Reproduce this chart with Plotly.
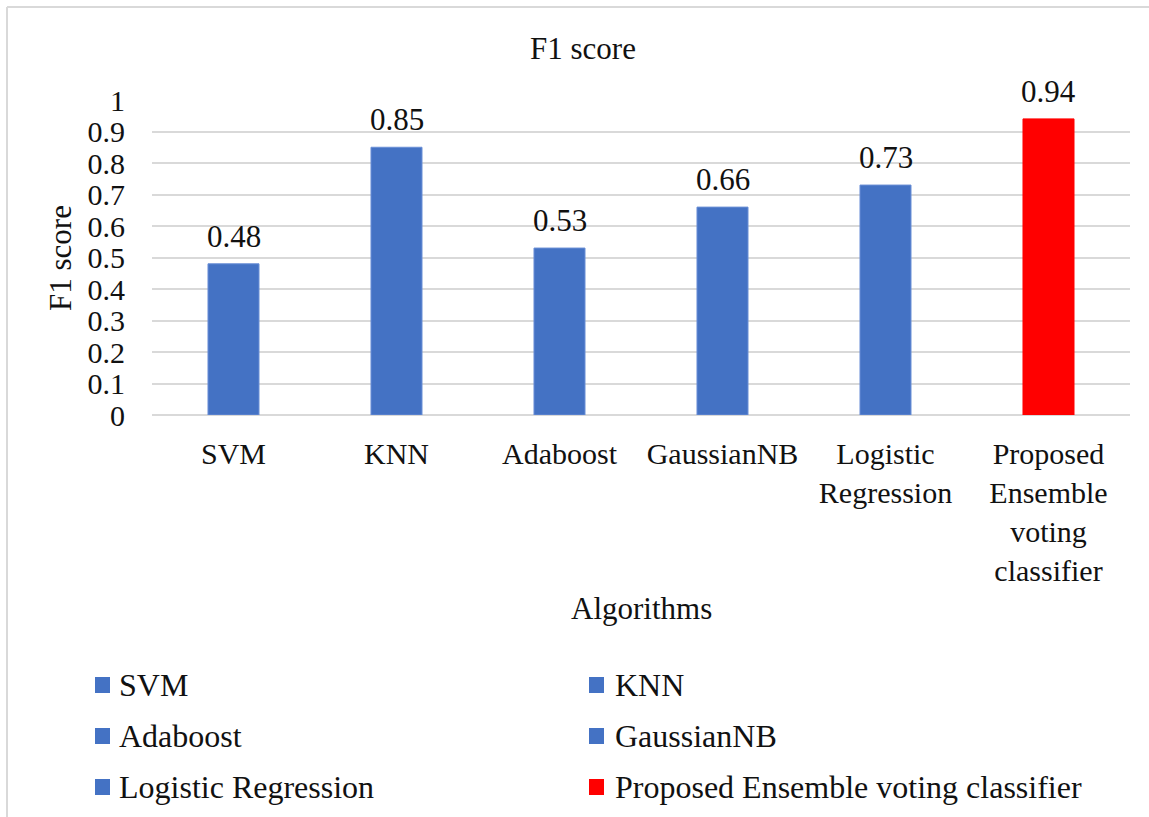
import plotly.graph_objects as go

# F1 score per algorithm
algorithms = ["SVM", "KNN", "Adaboost", "GaussianNB", "Logistic Regression",
              "Proposed Ensemble voting classifier"]
tick_labels = ["SVM", "KNN", "Adaboost", "GaussianNB", "Logistic<br>Regression",
               "Proposed<br>Ensemble<br>voting<br>classifier"]
f1_scores = [0.48, 0.85, 0.53, 0.66, 0.73, 0.94]
bar_colors = ["#4472C4", "#4472C4", "#4472C4", "#4472C4", "#4472C4", "#FF0000"]
edge_colors = ["#6A8FD6", "#6A8FD6", "#6A8FD6", "#6A8FD6", "#6A8FD6", "#FF0000"]
y_ticks = [0, 0.1, 0.2, 0.3, 0.4, 0.5, 0.6, 0.7, 0.8, 0.9, 1]

W, H = 1149, 817
L, R, T, B = 152, 19, 100, 402
PW, PH = W - L - R, H - T - B
FONT = "Liberation Serif, Times New Roman, serif"
TXT = "#111111"
GRID = "#D9D9D9"


def px_x(p):
    return (p - L) / PW


def px_y(p):
    return (H - B - p) / PH


fig = go.Figure()
fig.add_trace(go.Bar(
    x=algorithms, y=f1_scores,
    marker=dict(color=bar_colors, line=dict(color=edge_colors, width=1)),
    showlegend=False, hoverinfo="x+y",
))

annotations = []
# value labels above the bars
for name, v in zip(algorithms, f1_scores):
    annotations.append(dict(
        x=name, y=v, xref="x", yref="y", text=f"{v:.2f}", showarrow=False,
        yanchor="bottom", yshift=8, font=dict(family=FONT, size=31, color=TXT),
    ))

# axis titles
annotations.append(dict(
    x=px_x(641), y=px_y(608), xref="paper", yref="paper", text="Algorithms",
    showarrow=False, xanchor="center", yanchor="middle",
    font=dict(family=FONT, size=31, color=TXT),
))
annotations.append(dict(
    x=px_x(60), y=px_y(258), xref="paper", yref="paper", text="F1 score",
    showarrow=False, textangle=-90, xanchor="center", yanchor="middle",
    font=dict(family=FONT, size=31, color=TXT),
))

# two-column legend below the chart
shapes = []
col_sq = [95, 589]
col_tx = [117, 613]
row_y = [685, 736, 787]
for i, (name, col) in enumerate(zip(algorithms, bar_colors)):
    c, r = i % 2, i // 2
    cy = row_y[r]
    shapes.append(dict(
        type="rect", xref="paper", yref="paper",
        x0=px_x(col_sq[c]), x1=px_x(col_sq[c] + 15),
        y0=px_y(cy + 8), y1=px_y(cy - 8),
        fillcolor=col, line=dict(width=0),
    ))
    annotations.append(dict(
        x=px_x(col_tx[c]), y=px_y(cy), xref="paper", yref="paper", text=name,
        showarrow=False, xanchor="left", yanchor="middle",
        font=dict(family=FONT, size=32, color=TXT),
    ))

# chart frame (top and left edges)
shapes.append(dict(type="line", xref="paper", yref="paper",
                   x0=px_x(7), x1=px_x(W + 5), y0=px_y(7), y1=px_y(7),
                   line=dict(color=GRID, width=2)))
shapes.append(dict(type="line", xref="paper", yref="paper",
                   x0=px_x(7), x1=px_x(7), y0=px_y(7), y1=px_y(H + 5),
                   line=dict(color=GRID, width=2)))

fig.update_layout(
    width=W, height=H,
    margin=dict(l=L, r=R, t=T, b=B, pad=0),
    paper_bgcolor="white", plot_bgcolor="white",
    font=dict(family=FONT, size=31, color=TXT),
    title=dict(text="F1 score", xref="container", x=583 / W, xanchor="center",
               yref="container", y=1 - 48 / H, yanchor="middle",
               font=dict(family=FONT, size=31, color=TXT)),
    bargap=0.687,
    annotations=annotations,
    shapes=shapes,
)
fig.update_xaxes(
    type="category", tickmode="array", tickvals=algorithms, ticktext=tick_labels,
    showgrid=False, showline=False, zeroline=False, ticks="",
    ticklabelstandoff=18, tickfont=dict(family=FONT, size=30, color=TXT),
)
fig.update_yaxes(
    range=[0, 1], tickmode="array", tickvals=y_ticks,
    ticktext=[f"{t:g}" for t in y_ticks],
    showgrid=True, gridcolor=GRID, gridwidth=1.5,
    zeroline=True, zerolinecolor=GRID, zerolinewidth=1.5,
    showline=False, ticks="", ticklabelstandoff=26,
    tickfont=dict(family=FONT, size=30, color=TXT),
)

fig.write_html("out.html")
